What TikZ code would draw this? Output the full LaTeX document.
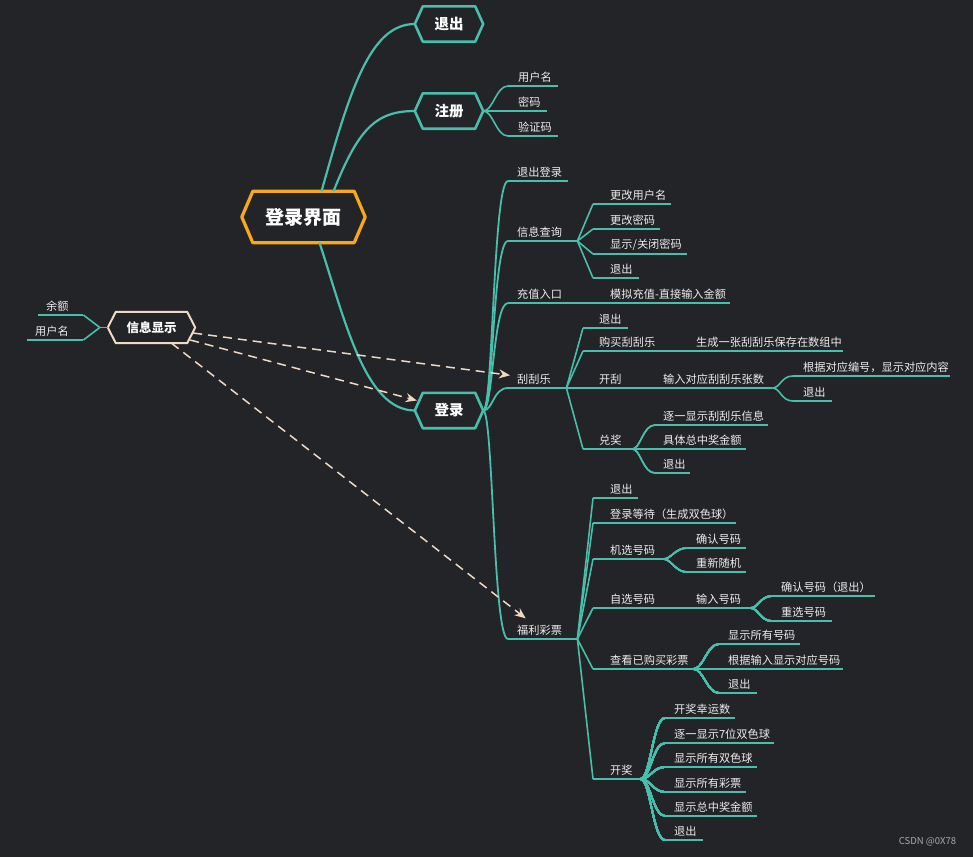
\documentclass[tikz,border=0pt]{standalone}
\usepackage{fontspec}
\setmainfont{Noto Sans CJK SC}
\usetikzlibrary{arrows.meta,calc}
\definecolor{bg}{RGB}{35,36,39}
\definecolor{teal1}{RGB}{72,190,172}
\definecolor{txt}{RGB}{236,236,236}
\definecolor{orng}{RGB}{248,168,24}
\definecolor{beige}{RGB}{238,218,196}
\definecolor{wmgray}{RGB}{170,170,170}
\tikzset{
  mainline/.style={draw=teal1, line width=2.2pt},
  midline/.style={draw=teal1, line width=1.8pt},
  subline/.style={draw=teal1, line width=1.6pt},
  hexnode/.style={inner sep=0pt, text=white},
  leaf/.style={anchor=south west, inner xsep=0pt, inner ysep=3pt, text=txt, font=\fontsize{11.2}{13}\selectfont},
  dasharrow/.style={draw=beige, line width=1.5pt, dash pattern=on 9pt off 6pt, -{Stealth[length=11pt,width=9pt,fill=beige]}},
}
\newcommand\leaf[6]{\node[leaf] (#1) at (#2,#5) {\makebox[\dimexpr #4pt-#2pt\relax][l]{\hspace*{\dimexpr #3pt-#2pt\relax}#6}};}
\newcommand\hexoutline[3]{\draw[#1, line join=round] (#2.west) -- ([xshift=#3]#2.north west) -- ([xshift=-#3]#2.north east) -- (#2.east) -- ([xshift=-#3]#2.south east) -- ([xshift=#3]#2.south west) -- cycle;}
\newcommand\curvelink[3]{\draw[subline] (#1) .. controls +(#3,0) and +(-12,0) .. (#2.south west);}
\begin{document}
\begin{tikzpicture}[x=1pt,y=-1pt]
\fill[bg] (0,0) rectangle (973,857);
\useasboundingbox (0,0) rectangle (973,857);

% main hexagon nodes
\node[hexnode, minimum width=123pt, minimum height=51pt, font=\bfseries\fontsize{19}{22}\selectfont] (root) at (303.5,217) {登录界面};
\node[hexnode, minimum width=68pt, minimum height=35pt, font=\bfseries\fontsize{14.5}{17}\selectfont] (quit) at (449,24) {退出};
\node[hexnode, minimum width=68pt, minimum height=35pt, font=\bfseries\fontsize{14.5}{17}\selectfont] (reg) at (449,111) {注册};
\node[hexnode, minimum width=68pt, minimum height=35pt, font=\bfseries\fontsize{14.5}{17}\selectfont] (login) at (449,410.5) {登录};
\node[hexnode, minimum width=87pt, minimum height=31pt, font=\bfseries\fontsize{12.5}{15}\selectfont] (info) at (151.5,327.5) {信息显示};

\hexoutline{draw=orng, line width=3.2pt}{root}{11pt}
\hexoutline{draw=teal1, line width=2.6pt}{quit}{8pt}
\hexoutline{draw=teal1, line width=2.6pt}{reg}{8pt}
\hexoutline{draw=teal1, line width=2.6pt}{login}{8pt}
\hexoutline{draw=beige, line width=2pt}{info}{8pt}

% leaves
\leaf{r1}{508}{518}{558}{86}{用户名}
\leaf{r2}{508}{518}{547}{111}{密码}
\leaf{r3}{508}{518}{558}{136}{验证码}
\leaf{a1}{508}{517}{568}{181}{退出登录}
\leaf{a2}{508}{517}{577}{241}{信息查询}
\leaf{a3}{508}{517}{593}{303}{充值入口}
\leaf{a4}{508}{517}{566}{388}{刮刮乐}
\leaf{a5}{508}{517}{577}{639}{福利彩票}
\leaf{b1}{593}{610}{671}{204}{更改用户名}
\leaf{b2}{593}{610}{660}{229}{更改密码}
\leaf{b3}{593}{610}{687}{254}{显示/关闭密码}
\leaf{b4}{593}{610}{639}{278}{退出}
\leaf{c1}{593}{610}{730}{303}{模拟充值-直接输入金额}
\leaf{d1}{583}{599}{628}{328}{退出}
\leaf{d2}{583}{599}{686}{351}{购买刮刮乐}
\leaf{d2c}{686}{696}{843}{351}{生成一张刮刮乐保存在数组中}
\leaf{d3}{583}{599}{654}{388}{开刮}
\leaf{d3c}{654}{663}{772}{388}{输入对应刮刮乐张数}
\leaf{d4}{583}{599}{632}{449}{兑奖}
\leaf{e1}{793}{803}{950}{376}{根据对应编号，显示对应内容}
\leaf{e2}{793}{803}{832}{401}{退出}
\leaf{f1}{655}{663}{768}{425}{逐一显示刮刮乐信息}
\leaf{f2}{655}{663}{746}{449}{具体总中奖金额}
\leaf{f3}{655}{663}{690}{473}{退出}
\leaf{g1}{593}{610}{638}{498}{退出}
\leaf{g2}{593}{610}{736}{523}{登录等待（生成双色球）}
\leaf{g3}{593}{610}{663}{559}{机选号码}
\leaf{g4}{593}{610}{687}{608}{自选号码}
\leaf{g4c}{687}{696}{750}{608}{输入号码}
\leaf{g5}{593}{610}{693}{669}{查看已购买彩票}
\leaf{g6}{593}{610}{640}{779}{开奖}
\leaf{h1}{687}{696}{746}{548}{确认号码}
\leaf{h2}{687}{696}{746}{572}{重新随机}
\leaf{i1}{772}{781}{875}{596}{确认号码（退出）}
\leaf{i2}{772}{781}{832}{621}{重选号码}
\leaf{j1}{719}{728}{800}{644}{显示所有号码}
\leaf{j2}{719}{728}{843}{669}{根据输入显示对应号码}
\leaf{j3}{719}{728}{757}{693}{退出}
\leaf{k1}{665}{674}{735}{718}{开奖幸运数}
\leaf{k2}{665}{674}{774}{743}{逐一显示7位双色球}
\leaf{k3}{665}{674}{757}{767}{显示所有双色球}
\leaf{k4}{665}{674}{746}{792}{显示所有彩票}
\leaf{k5}{665}{674}{757}{816}{显示总中奖金额}
\leaf{k6}{665}{674}{703}{840}{退出}
\leaf{u1}{38}{46}{83}{315}{余额}
\leaf{u2}{27}{35}{83}{340}{用户名}

% underlines
\foreach \n in {r1,r2,r3,a1,a2,a3,a4,a5,b1,b2,b3,b4,c1,d1,d2,d2c,d3,d3c,d4,e1,e2,f1,f2,f3,g1,g2,g3,g4,g4c,g5,g6,h1,h2,i1,i2,j1,j2,j3,k1,k2,k3,k4,k5,k6,u1,u2}
  \draw[subline] (\n.south west) -- (\n.south east);

% root branches
\draw[mainline] ([xshift=18pt]root.north) .. controls (350,90) and (370,24) .. (quit.west);
\draw[mainline] ([xshift=30pt]root.north) .. controls (358,130) and (375,111) .. (reg.west);
\draw[mainline] ([xshift=16pt]root.south) .. controls (345,320) and (365,410.5) .. (login.west);

% register children
\foreach \c in {r1,r2,r3}
  \draw[subline] (reg.east) .. controls +(10,0) and +(-12,0) .. (\c.south west);
% login children
\foreach \c in {a1,a2,a3,a4,a5}
  \draw[midline] (login.east) .. controls +(10,0) and +(-15,0) .. (\c.south west);
% straight fans
\foreach \c in {b1,b2,b3,b4}
  \draw[subline] (a2.south east) -- (\c.south west);
\draw[subline] (a3.south east) -- (c1.south west);
\foreach \c in {d1,d2,d3,d4}
  \draw[subline] (a4.south east) -- (\c.south west);
\draw[subline] (d2.south east) -- (d2c.south west);
\draw[subline] (d3.south east) -- (d3c.south west);
\foreach \c in {g1,g2,g3,g4,g5,g6}
  \draw[subline] (a5.south east) -- (\c.south west);
\draw[subline] (g4.south east) -- (g4c.south west);
% curved fans
\foreach \c in {e1,e2} \curvelink{d3c.south east}{\c}{8}
\foreach \c in {f1,f2,f3} \curvelink{d4.south east}{\c}{8}
\foreach \c in {h1,h2} \curvelink{g3.south east}{\c}{8}
\foreach \c in {i1,i2} \curvelink{g4c.south east}{\c}{8}
\foreach \c in {j1,j2,j3} \curvelink{g5.south east}{\c}{10}
\foreach \c in {k1,k2,k3,k4,k5,k6} \curvelink{g6.south east}{\c}{10}
% info children
\coordinate (ij) at ([xshift=-8pt]info.west);
\draw[subline] (info.west) -- (ij);
\foreach \c in {u1,u2} \draw[subline] (ij) -- (\c.south east);

% dashed relations
\draw[dasharrow] ([xshift=-2pt,yshift=-5.5pt]info.east) -- ([xshift=2pt,yshift=-4pt]a4.north west);
\draw[dasharrow] ([xshift=-5pt,yshift=-12.5pt]info.east) -- ([xshift=2pt,yshift=10pt]login.west);
\draw[dasharrow] ([xshift=20pt]info.south) -- ([xshift=-17pt,yshift=4pt]a5.north);

% watermark
\node[text=wmgray, font=\fontsize{9.5}{11}\selectfont, inner sep=0pt] (wm) at (927.5,842) {CSDN @0X78};
\end{tikzpicture}
\end{document}
